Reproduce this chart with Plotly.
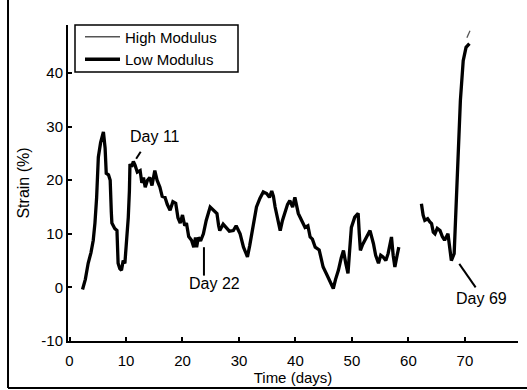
import plotly.graph_objects as go

# ---- data ----
low_days = [2.3, 2.8, 3.3, 3.8, 4.2, 4.5, 4.8, 5.1, 5.5, 6.0, 6.3, 6.5, 6.9, 7.2, 7.4, 7.5, 8.0, 8.4,
            8.6, 8.9, 9.2, 9.5, 9.8, 10.1, 10.4, 10.6, 10.7, 11.0, 11.3, 11.6, 12.0, 12.5, 12.8, 13.1,
            13.4, 13.8, 14.2, 14.6, 15.1, 15.5, 16.0, 16.4, 16.9, 17.3, 17.8, 18.3, 18.8, 19.2, 19.6,
            20.0, 20.4, 20.7, 21.1, 21.6, 22.0, 22.3, 22.5, 22.8, 23.2, 23.7, 24.2, 24.9, 25.5, 26.1,
            26.4, 26.6, 27.2, 27.8, 28.3, 29.0, 29.5, 30.2, 30.5, 30.8, 31.2, 31.5, 31.9, 32.2, 32.7,
            33.1, 33.7, 34.3, 34.9, 35.4, 35.8, 36.1, 36.4, 36.9, 37.3, 37.7, 38.1, 38.6, 39.0, 39.5,
            39.9, 40.2, 40.5, 41.1, 41.7, 42.2, 42.6, 43.0, 43.5, 44.2, 44.9, 45.5, 46.1, 46.7, 47.1,
            47.6, 48.1, 48.5, 48.9, 49.3, 49.6, 49.9, 50.5, 51.1, 51.3, 51.5, 51.9, 52.3, 52.8, 53.2,
            53.8, 54.2, 54.7, 55.1, 55.5, 56.0, 56.4, 57.0, 57.3, 57.6, 58.0, 58.3,
            None,
            62.3, 62.6, 62.9, 63.4, 63.8, 64.1, 64.4, 64.7, 65.1, 65.6, 66.0, 66.4, 67.0, 67.3, 67.6,
            68.1, 68.5, 68.8, 69.2, 69.7, 70.2, 70.8]
low_strain = [-0.4, 1.5, 4.5, 6.5, 8.8, 12.0, 16.8, 24.3, 27.0, 29.0, 26.0, 21.3, 21.0, 20.0, 14.0, 12.0,
              11.0, 10.6, 4.5, 3.5, 3.2, 5.0, 4.5, 8.8, 13.0, 18.0, 23.0, 22.5, 23.5, 22.8, 21.5, 21.8,
              19.5, 20.5, 18.7, 20.0, 20.5, 19.0, 21.8, 20.0, 18.7, 17.0, 16.8, 15.5, 14.4, 16.0, 15.7,
              13.0, 12.0, 13.5, 11.5, 12.0, 9.5, 8.8, 7.5, 9.3, 7.5, 9.3, 8.7, 10.0, 12.5, 15.0, 14.3,
              13.8, 11.5, 10.6, 11.8, 11.0, 10.5, 10.6, 11.5, 10.0, 8.5, 7.5, 6.5, 5.7, 7.8, 9.4, 12.5,
              15.0, 16.6, 17.8, 17.5, 16.8, 18.0, 17.0, 15.0, 12.5, 10.6, 12.5, 13.8, 15.5, 16.2, 15.0,
              16.8, 15.5, 13.8, 12.5, 11.2, 11.5, 9.4, 9.0, 7.5, 7.0, 3.8, 2.5, 1.3, -0.2, 1.5,
              3.2, 5.5, 6.9, 4.5, 2.6, 7.0, 11.2, 13.1, 13.8, 10.0, 6.9, 8.0, 8.8, 9.5, 10.6,
              8.2, 6.0, 4.5, 6.0, 5.7, 5.0, 6.3, 9.4, 6.0, 3.8, 6.0, 7.5,
              None,
              15.6, 13.5, 12.5, 12.8, 12.2, 11.9, 10.3, 10.0, 11.0, 10.6, 9.5, 8.8, 10.0, 7.5, 5.0,
              6.3, 16.2, 25.6, 34.9, 42.3, 44.8, 45.5]

high_days = [70.35, 70.9]
high_strain = [46.6, 47.9]

x_ticks = [0, 10, 20, 30, 40, 50, 60, 70]
y_ticks = [-10, 0, 10, 20, 30, 40]

annot_text = ["Day 11", "Day 22", "Day 69"]
annot_text_pos = [(15.1, 28.2), (25.6, 0.75), (73.0, -2.1)]
annot_lines = [((11.8, 24.0), (12.6, 25.3)), ((23.8, 7.5), (23.8, 2.2)), ((69.0, 4.4), (71.9, 0.0))]

FONT = "Liberation Sans, Arial, sans-serif"

fig = go.Figure()
fig.add_trace(go.Scatter(x=high_days, y=high_strain, mode="lines", name="High Modulus",
                         line=dict(color="#555555", width=1.3), connectgaps=False))
fig.add_trace(go.Scatter(x=low_days, y=low_strain, mode="lines", name="Low Modulus",
                         line=dict(color="black", width=3.3), connectgaps=False))

for txt, (tx, ty) in zip(annot_text, annot_text_pos):
    fig.add_annotation(x=tx, y=ty, text=txt, showarrow=False,
                       font=dict(size=16, color="black", family=FONT))
for (x0, y0), (x1, y1) in annot_lines:
    fig.add_shape(type="line", x0=x0, y0=y0, x1=x1, y1=y1, xref="x", yref="y",
                  line=dict(color="black", width=2))

# outer frame of the scanned figure
fig.add_shape(type="line", xref="paper", yref="paper", x0=-0.1333, x1=-0.1333, y0=-0.1487, y1=1.08,
              line=dict(color="black", width=2))
fig.add_shape(type="line", xref="paper", yref="paper", x0=-0.1333, x1=1.03, y0=-0.1487, y1=-0.1487,
              line=dict(color="black", width=2))
# legend frame (plot area: x 68..518 px, y 25..341 px)
fig.add_shape(type="rect", xref="paper", yref="paper",
              x0=(75 - 68) / 450, x1=(238 - 68) / 450, y0=(341 - 72) / 316, y1=1.0,
              line=dict(color="black", width=1.5), fillcolor="white", layer="above")

fig.update_layout(
    width=527, height=390,
    margin=dict(l=68, r=9, t=25, b=49, autoexpand=False),
    paper_bgcolor="white", plot_bgcolor="white",
    font=dict(family=FONT, color="black", size=15),
    showlegend=True,
    legend=dict(x=(80 - 68) / 450, y=1.0 + 4.5 / 316, xanchor="left", yanchor="top",
                bgcolor="rgba(0,0,0,0)", borderwidth=0,
                font=dict(size=15, family=FONT), tracegroupgap=0, itemwidth=35),
)
fig.update_xaxes(range=[-0.27, 79.4], tickvals=x_ticks, ticktext=[str(v) for v in x_ticks],
                 showline=True, linecolor="black", linewidth=2, mirror=False,
                 ticks="inside", ticklen=4, tickcolor="black", tickwidth=1.5,
                 showgrid=False, zeroline=False, ticklabelstandoff=5, automargin=False,
                 title=dict(text="Time (days)", font=dict(size=15), standoff=4),
                 tickfont=dict(size=15))
fig.update_yaxes(range=[-10, 48.96], tickvals=y_ticks, ticktext=[str(v) for v in y_ticks],
                 showline=True, linecolor="black", linewidth=2, mirror=False,
                 ticks="inside", ticklen=4, tickcolor="black", tickwidth=1.5,
                 showgrid=False, zeroline=False, automargin=False,
                 title=dict(text="Strain (%)", font=dict(size=16), standoff=8),
                 tickfont=dict(size=15))

fig.write_html("out.html")
